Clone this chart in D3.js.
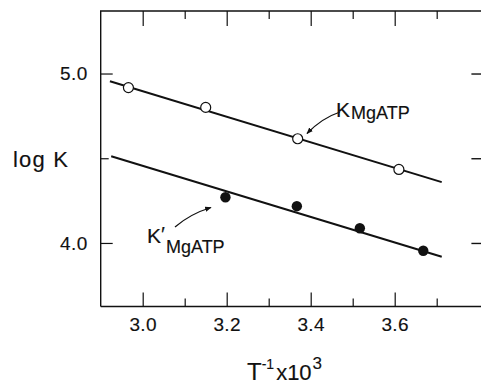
<!DOCTYPE html>
<html>
<head>
<meta charset="utf-8">
<script src="https://cdn.jsdelivr.net/npm/d3@7"></script>
<style>
  html, body { margin: 0; padding: 0; background: #fff; }
  svg text { font-family: "Liberation Sans", Arial, Helvetica, sans-serif; fill: #111; stroke: #111; stroke-width: 0.15; }
</style>
</head>
<body>
<div id="chart"></div>
<script>
// data
const openX = [2.966, 3.150, 3.369, 3.610];
const openY = [4.917, 4.800, 4.615, 4.434];
const filledX = [3.197, 3.367, 3.517, 3.668];
const filledY = [4.270, 4.217, 4.087, 3.954];
// fitted lines (end points)
const upperLineX = [2.922, 3.712];
const upperLineY = [4.954, 4.359];
const lowerLineX = [2.925, 3.712];
const lowerLineY = [4.512, 3.919];

const xMajor = [3.0, 3.2, 3.4, 3.6];
const xMinor = [3.1, 3.3, 3.5, 3.7];
const xLabels = ["3.0", "3.2", "3.4", "3.6"];
const yMajor = [4.0, 5.0];
const yMinor = [4.5];
const yLabels = ["4.0", "5.0"];

const W = 481, H = 385;
const m = { left: 100.7, right: 482.9, top: 11, bottom: 306.5 };
const ink = "#111";

const x = d3.scaleLinear().domain([2.9, 3.81]).range([m.left, m.right]);
const y = d3.scaleLinear().domain([3.625, 5.369]).range([m.bottom, m.top]);

const svg = d3.select("#chart").append("svg")
  .attr("width", W).attr("height", H);

svg.append("defs").append("marker")
  .attr("id", "arrow")
  .attr("viewBox", "0 0 10 10")
  .attr("refX", 9).attr("refY", 5)
  .attr("markerWidth", 5).attr("markerHeight", 5)
  .attr("orient", "auto")
  .append("path").attr("d", "M0,1 L10,5 L0,9 Z").attr("fill", ink);

// frame
svg.append("path")
  .attr("d", `M${m.left},${m.bottom} L${m.left},${m.top} L${W},${m.top}`)
  .attr("fill", "none").attr("stroke", ink).attr("stroke-width", 1.4);
svg.append("line")
  .attr("x1", m.left).attr("x2", W).attr("y1", m.bottom).attr("y2", m.bottom)
  .attr("stroke", ink).attr("stroke-width", 1.6);

// bottom axis (ticks inward)
const gx = svg.append("g").attr("transform", `translate(0,${m.bottom})`);
gx.call(d3.axisBottom(x).tickValues(xMajor).tickSize(-14)
    .tickFormat((d, i) => xLabels[i]).tickPadding(11))
  .call(g => g.select(".domain").remove());
gx.selectAll(".tick line").attr("stroke", ink).attr("stroke-width", 1.2);
gx.selectAll(".tick text").attr("font-size", 19).attr("letter-spacing", 0.4).attr("fill", ink);
svg.append("g").attr("transform", `translate(0,${m.bottom})`)
  .call(d3.axisBottom(x).tickValues(xMinor).tickSize(-8).tickFormat(""))
  .call(g => g.select(".domain").remove())
  .selectAll(".tick line").attr("stroke", ink).attr("stroke-width", 1.2);

// top axis
svg.append("g").attr("transform", `translate(0,${m.top})`)
  .call(d3.axisTop(x).tickValues(xMajor).tickSize(-15).tickFormat(""))
  .call(g => g.select(".domain").remove())
  .selectAll(".tick line").attr("stroke", ink).attr("stroke-width", 1.2);
svg.append("g").attr("transform", `translate(0,${m.top})`)
  .call(d3.axisTop(x).tickValues(xMinor).tickSize(-8).tickFormat(""))
  .call(g => g.select(".domain").remove())
  .selectAll(".tick line").attr("stroke", ink).attr("stroke-width", 1.2);

// left axis
const gy = svg.append("g").attr("transform", `translate(${m.left},0)`);
gy.call(d3.axisLeft(y).tickValues(yMajor).tickSize(-12)
    .tickFormat((d, i) => yLabels[i]).tickPadding(13))
  .call(g => g.select(".domain").remove());
gy.selectAll(".tick line").attr("stroke", ink).attr("stroke-width", 1.2);
gy.selectAll(".tick text").attr("font-size", 19).attr("letter-spacing", 0.4).attr("fill", ink);
svg.append("g").attr("transform", `translate(${m.left},0)`)
  .call(d3.axisLeft(y).tickValues(yMinor).tickSize(-8).tickFormat(""))
  .call(g => g.select(".domain").remove())
  .selectAll(".tick line").attr("stroke", ink).attr("stroke-width", 1.2);

// right axis (frame edge just outside the window)
svg.append("g").attr("transform", `translate(${m.right - 1.5},0)`)
  .call(d3.axisRight(y).tickValues(yMajor.concat(yMinor)).tickSize(-10).tickFormat(""))
  .call(g => g.select(".domain").remove())
  .selectAll(".tick line").attr("stroke", ink).attr("stroke-width", 1.4);

// fitted lines
const line = d3.line().x(d => x(d[0])).y(d => y(d[1]));
svg.append("path")
  .datum(d3.zip(upperLineX, upperLineY))
  .attr("d", line).attr("fill", "none").attr("stroke", ink).attr("stroke-width", 2);
svg.append("path")
  .datum(d3.zip(lowerLineX, lowerLineY))
  .attr("d", line).attr("fill", "none").attr("stroke", ink).attr("stroke-width", 2);

// points
svg.selectAll("circle.open")
  .data(d3.zip(openX, openY)).enter().append("circle")
  .attr("class", "open")
  .attr("cx", d => x(d[0])).attr("cy", d => y(d[1])).attr("r", 5)
  .attr("fill", "#fff").attr("stroke", ink).attr("stroke-width", 1.2);
svg.selectAll("circle.filled")
  .data(d3.zip(filledX, filledY)).enter().append("circle")
  .attr("class", "filled")
  .attr("cx", d => x(d[0])).attr("cy", d => y(d[1])).attr("r", 5.2)
  .attr("fill", ink);

// labels
function kLabel(px, py, prime, subDy) {
  const t = svg.append("text").attr("x", px).attr("y", py).attr("font-size", 21);
  t.append("tspan").text("K");
  if (prime) t.append("tspan").attr("dy", -2).attr("dx", 0).text("\u2032");
  t.append("tspan").attr("font-size", 18).attr("dy", prime ? subDy + 2 : subDy)
    .attr("dx", 1).text("MgATP");
}
kLabel(336, 117, false, 2);
kLabel(147, 243, true, 10);

// arrows
svg.append("path")
  .attr("d", `M340,112 Q322,118 307,133.5`)
  .attr("fill", "none").attr("stroke", ink).attr("stroke-width", 1.3)
  .attr("marker-end", "url(#arrow)");
svg.append("path")
  .attr("d", `M175,227 Q190,214 211,207.5`)
  .attr("fill", "none").attr("stroke", ink).attr("stroke-width", 1.3)
  .attr("marker-end", "url(#arrow)");

// axis titles
svg.append("text").attr("x", 13).attr("y", 167)
  .attr("font-size", 22).attr("letter-spacing", 1.2).text("log K");

const xt = svg.append("text").attr("x", 247).attr("y", 380).attr("font-size", 24);
xt.append("tspan").text("T");
xt.append("tspan").attr("font-size", 14).attr("dy", -11).attr("dx", 0).text("-1");
xt.append("tspan").attr("font-size", 22).attr("dy", 11).attr("dx", 2).text("x10");
xt.append("tspan").attr("font-size", 17).attr("dy", -11).attr("dx", 1).text("3");
</script>
</body>
</html>
